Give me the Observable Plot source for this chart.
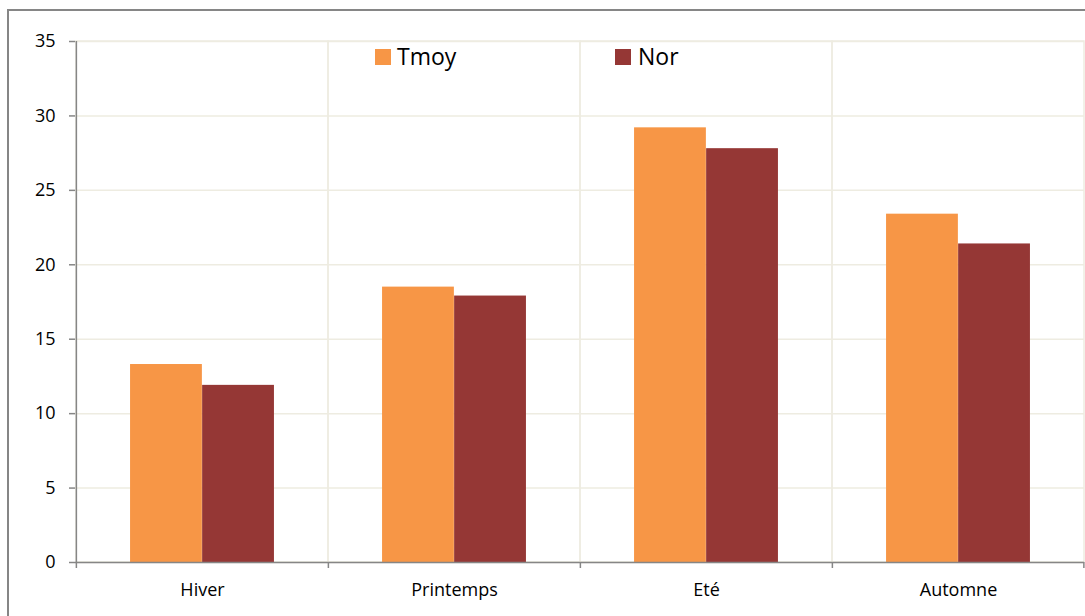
<!DOCTYPE html>
<html>
<head>
<meta charset="utf-8">
<script src="https://cdn.jsdelivr.net/npm/d3@7"></script>
<script src="https://cdn.jsdelivr.net/npm/@observablehq/plot@0.6"></script>
<style>
  html, body { margin: 0; padding: 0; background: #fff; overflow: hidden; width: 1085px; height: 616px; }
  #wrap { position: relative; width: 1085px; height: 616px; }
  #border { position: absolute; left: 7px; top: 9px; width: 1200px; height: 700px; border: 2px solid #868686; box-sizing: border-box; }
  #chart { position: absolute; left: 0; top: 0; }
  .leg { position: absolute; font-family: "Open Sans", sans-serif; font-size: 23px; line-height: 23px; color: #000; }
  .sw { position: absolute; width: 16px; height: 16px; }
</style>
</head>
<body>
<div id="wrap">
  <div id="border"></div>
  <div id="chart"></div>
  <div id="legend"></div>
</div>
<script>
const seasons = ["Hiver", "Printemps", "Eté", "Automne"];
const seriesNames = ["Tmoy", "Nor"];
const tmoy = [13.3, 18.5, 29.2, 23.4];
const nor = [11.9, 17.9, 27.8, 21.4];
const seriesColors = ["#F79646", "#953735"];
const yTicks = [0, 5, 10, 15, 20, 25, 30, 35];

const W = 1085, H = 616;
const mL = 75, mR = 1, mT = 41, mB = 54;
const bw = (W - mL - mR) / seasons.length;   // band width
const barW = bw / 3.5;                        // Excel gap width 150%
const gridColor = "#EEECE1";
const axisColor = "#868686";

const rows = seasons.flatMap((s, i) => [
  {season: s, series: seriesNames[0], value: tmoy[i]},
  {season: s, series: seriesNames[1], value: nor[i]}
]);

const chart = Plot.plot({
  width: W,
  height: H,
  marginLeft: mL,
  marginRight: mR,
  marginTop: mT,
  marginBottom: mB,
  style: {fontFamily: "'Open Sans', sans-serif", fontSize: "18px", background: "transparent", color: "#000"},
  x: {type: "band", domain: seasons, padding: 0, label: null},
  y: {domain: [0, 35], label: null},
  color: {domain: seriesNames, range: seriesColors},
  marks: [
    Plot.gridY(yTicks, {stroke: gridColor, strokeOpacity: 1, strokeWidth: 1.5}),
    Plot.barY(seasons, {x: d => d, y1: 0, y2: 35, fill: "none", stroke: gridColor, strokeWidth: 1.5}),
    Plot.barY(rows.filter(d => d.series === seriesNames[0]), {
      x: "season", y: "value", fill: "series",
      insetLeft: bw / 2 - barW, insetRight: bw / 2
    }),
    Plot.barY(rows.filter(d => d.series === seriesNames[1]), {
      x: "season", y: "value", fill: "series",
      insetLeft: bw / 2, insetRight: bw / 2 - barW
    }),
    Plot.ruleY([0], {stroke: axisColor, strokeWidth: 1.5}),
    Plot.ruleX([seasons[0]], {x: d => d, y1: 0, y2: 35, dx: -bw / 2, stroke: axisColor, strokeWidth: 1.5}),
    Plot.ruleX(seasons, {x: d => d, y1: 0, y2: 0, insetBottom: -6, dx: -bw / 2, stroke: axisColor, strokeWidth: 1.5}),
    Plot.ruleX([seasons[seasons.length - 1]], {x: d => d, y1: 0, y2: 0, insetBottom: -6, dx: bw / 2 - 0.75, stroke: axisColor, strokeWidth: 1.5}),
    Plot.axisY(yTicks, {tickSize: 6, tickPadding: 14, stroke: axisColor, strokeWidth: 1.5, fill: "#000", fontSize: 18, label: null}),
    Plot.axisX({tickSize: 0, tickPadding: 21, fill: "#000", fontSize: 18, label: null})
  ]
});
document.getElementById("chart").appendChild(chart);

// Legend (inside top of plot area, as in the reference)
const legend = document.getElementById("legend");
const legPos = [{sw: 375, tx: 397}, {sw: 615, tx: 638}];
seriesNames.forEach((name, i) => {
  const sw = document.createElement("div");
  sw.className = "sw";
  sw.style.left = legPos[i].sw + "px";
  sw.style.top = "49px";
  sw.style.background = seriesColors[i];
  legend.appendChild(sw);
  const t = document.createElement("div");
  t.className = "leg";
  t.style.left = legPos[i].tx + "px";
  t.style.top = "45px";
  t.textContent = name;
  legend.appendChild(t);
});
</script>
</body>
</html>
